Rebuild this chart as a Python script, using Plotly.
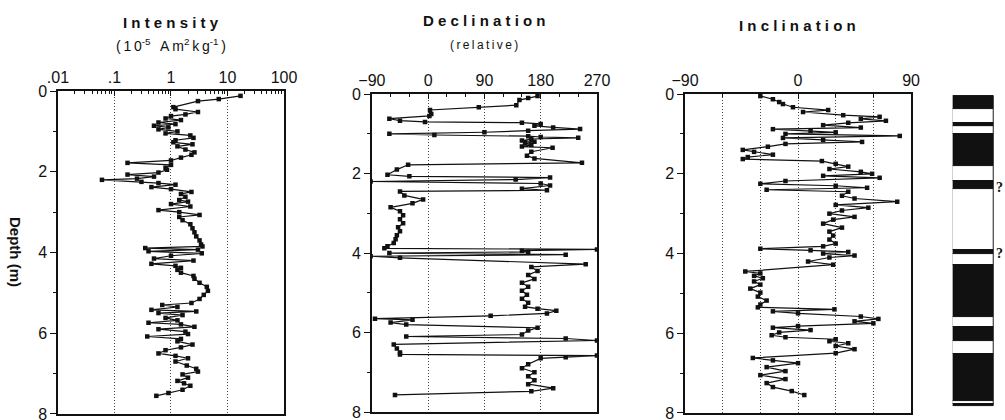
import plotly.graph_objects as go

# ---------------- data ----------------
int_depth = [0.12,0.20,0.25,0.40,0.45,0.52,0.58,0.62,0.68,0.72,0.78,0.82,0.86,0.90,0.95,1.00,1.05,1.10,1.16,1.22,
             1.27,1.32,1.37,1.45,1.52,1.58,1.65,1.72,1.78,1.83,1.90,1.95,2.02,2.07,2.12,2.17,2.20,2.25,2.28,2.32,
             2.38,2.43,2.50,2.55,2.62,2.70,2.74,2.80,2.86,2.95,3.00,3.07,3.12,3.20,3.30,3.40,3.50,3.60,3.70,3.80,
             3.85,3.89,3.93,3.97,4.02,4.08,4.15,4.20,4.28,4.33,4.38,4.43,4.50,4.58,4.65,4.75,4.85,4.95,5.05,5.15,
             5.25,5.30,5.35,5.42,5.46,5.50,5.55,5.62,5.68,5.74,5.78,5.84,5.90,5.96,6.02,6.08,6.14,6.20,6.28,6.35,
             6.42,6.50,6.56,6.62,6.70,6.80,6.88,6.95,7.02,7.10,7.18,7.24,7.30,7.40,7.48,7.55]
int_value = [17,7,3,1.1,1.2,3,1.8,1.0,0.8,1.5,0.6,1.2,0.5,0.9,0.6,1.3,0.8,2.2,2.5,1.2,
             1.1,2.4,1.3,1.8,2.6,2.3,1.5,1.0,0.17,1.0,0.8,0.85,0.6,0.17,0.5,0.25,0.06,0.3,0.6,1.2,
             0.45,1.0,2.3,1.5,1.8,1.4,2.0,1.0,2.2,0.6,1.4,3.2,1.4,1.6,2.2,2.4,2.6,2.8,3.2,3.4,
             3.6,0.35,3.0,0.4,3.5,1.0,0.5,2.5,0.45,1.2,1.5,1.3,1.5,2.5,2.6,3.2,4.3,4.5,3.8,3.2,
             2.3,0.7,1.3,0.45,2.8,0.6,1.6,0.8,1.3,0.4,1.5,2.6,0.6,1.8,2.0,0.38,1.5,1.3,2.4,1.5,
             0.8,0.6,1.2,2.0,1.2,1.9,2.8,3.0,1.6,2.0,1.3,1.7,2.2,1.6,0.9,0.55]

dec_depth = [0.05,0.10,0.15,0.28,0.33,0.40,0.50,0.55,0.62,0.67,0.70,0.72,0.75,0.80,0.84,0.88,0.92,0.96,1.00,1.03,
             1.06,1.08,1.10,1.13,1.17,1.20,1.24,1.28,1.32,1.35,1.45,1.55,1.62,1.73,1.78,1.90,2.03,2.07,2.10,2.15,
             2.20,2.25,2.30,2.38,2.42,2.45,2.55,2.65,2.75,2.85,2.95,3.05,3.15,3.25,3.35,3.45,3.55,3.65,3.75,3.83,
             3.88,3.91,3.94,3.97,4.00,4.04,4.08,4.12,4.28,4.35,4.45,4.55,4.65,4.75,4.85,4.95,5.05,5.15,5.25,5.35,
             5.40,5.45,5.52,5.58,5.65,5.68,5.75,5.80,5.88,5.95,6.05,6.10,6.15,6.20,6.30,6.40,6.50,6.55,6.58,6.62,
             6.65,6.80,6.90,7.00,7.10,7.20,7.30,7.40,7.48,7.57]
dec_value = [175,160,146,141,81,3,5,2,-62,-45,-5,150,180,170,200,243,160,90,-62,10,
             160,180,240,165,150,170,155,165,150,199,165,158,170,246,-32,-50,-65,-30,195,140,
             -92,180,195,150,190,-45,-38,-8,-25,-60,-45,-40,-45,-40,-48,-45,-50,-52,-55,-65,
             -70,270,150,160,-62,220,-92,-45,252,165,175,160,170,150,160,150,158,150,160,155,
             175,205,190,100,-85,-25,-60,-35,175,160,150,-35,220,270,-55,-50,-45,-45,270,220,
             180,160,150,170,160,170,160,200,165,-53]

inc_depth = [0.05,0.13,0.20,0.25,0.33,0.40,0.45,0.53,0.57,0.62,0.67,0.72,0.78,0.84,0.88,0.92,0.96,1.00,1.05,1.10,
             1.15,1.20,1.25,1.32,1.40,1.45,1.52,1.58,1.63,1.68,1.75,1.82,1.88,1.95,2.00,2.05,2.10,2.18,2.25,2.30,
             2.35,2.40,2.45,2.55,2.62,2.70,2.78,2.85,2.92,3.00,3.08,3.15,3.25,3.35,3.45,3.55,3.65,3.75,3.82,3.88,
             3.92,3.96,4.00,4.05,4.10,4.20,4.28,4.45,4.50,4.56,4.62,4.70,4.78,4.88,4.98,5.08,5.18,5.28,5.35,5.40,
             5.45,5.50,5.58,5.64,5.70,5.75,5.82,5.86,5.92,5.98,6.05,6.10,6.15,6.20,6.25,6.32,6.40,6.50,6.62,6.68,
             6.75,6.85,6.95,7.05,7.15,7.25,7.35,7.45,7.55]
inc_value = [-30,-20,-15,-12,-4,24,4,36,65,50,70,40,20,50,-20,10,30,-10,81,-12,
             20,51,-10,-24,-44,-35,-20,-40,-44,19,30,40,25,50,59,20,65,-10,-30,30,
             55,-25,40,35,45,79,30,56,35,25,45,28,20,35,25,28,25,30,20,-30,
             10,40,20,45,25,8,28,-42,-30,-35,-28,-35,-30,-38,-30,-32,-25,-30,-32,29,
             -20,0,50,64,45,60,0,-20,10,-15,-21,-10,30,25,40,30,45,30,-36,-20,
             0,-25,-10,-30,-10,-25,-20,-5,5]

# polarity column zones (depth top, depth bottom, kind)
pol_top    = [0.05,0.38,0.73,0.80,1.00,1.80,2.18,2.38,3.93,4.03,4.29,5.61,5.86,6.22,6.54,7.72,7.79]
pol_bottom = [0.38,0.73,0.80,1.00,1.80,2.18,2.38,3.93,4.03,4.29,5.61,5.86,6.22,6.54,7.72,7.79,7.85]
pol_kind   = ["N","R","N","?","N","R","N","R","N","R","N","R","N","R","N","R","N"]

FONT = "Liberation Sans, Arial, sans-serif"
BLACK = "#111111"
GRID = dict(showgrid=True, gridcolor="#444444", griddash="1px,2px", gridwidth=1)

fig = go.Figure()

mk = dict(symbol="square", size=4.5, color=BLACK)
ln = dict(color=BLACK, width=1.2)
fig.add_trace(go.Scatter(x=int_value, y=int_depth, mode="lines+markers", marker=mk, line=ln,
                         xaxis="x", yaxis="y", showlegend=False))
fig.add_trace(go.Scatter(x=dec_value, y=dec_depth, mode="lines+markers", marker=mk, line=ln,
                         xaxis="x2", yaxis="y2", showlegend=False))
fig.add_trace(go.Scatter(x=inc_value, y=inc_depth, mode="lines+markers", marker=mk, line=ln,
                         xaxis="x3", yaxis="y3", showlegend=False))

# polarity column
colors = [BLACK if k == "N" else "white" for k in pol_kind]
patterns = ["." if k == "?" else "" for k in pol_kind]
fig.add_trace(go.Bar(x=[0.5] * len(pol_top), y=[b - t for t, b in zip(pol_top, pol_bottom)], base=pol_top,
                     width=1, marker=dict(color=colors, line=dict(color=BLACK, width=1),
                                          pattern=dict(shape=patterns, fgcolor="#555555", bgcolor="white",
                                                       size=4, solidity=0.4)),
                     xaxis="x4", yaxis="y4", showlegend=False, hoverinfo="skip"))

tickfont = dict(family=FONT, size=16, color=BLACK)
common_x = dict(side="top", showline=True, linecolor=BLACK, linewidth=1.5, mirror=True,
                ticks="inside", ticklen=5, tickcolor=BLACK, tickfont=tickfont, zeroline=False,
                automargin=False, ticklabeloverflow="allow", **GRID)
common_y = dict(range=[8, 0], tickvals=[0, 2, 4, 6, 8], showline=True, linecolor=BLACK, linewidth=1.5,
                mirror=True, ticks="outside", ticklen=6, tickcolor=BLACK, tickfont=tickfont,
                showgrid=False, zeroline=False, automargin=False, ticklabeloverflow="allow",
                minor=dict(dtick=1, ticks="outside", ticklen=3, tickcolor=BLACK, showgrid=False))

minor_log = [k * 10 ** n for n in range(-2, 2) for k in range(2, 10)]

fig.update_layout(
    template="none",
    width=1005, height=420, margin=dict(l=0, r=0, t=0, b=0, autoexpand=False),
    paper_bgcolor="white", plot_bgcolor="white", font=dict(family=FONT, color=BLACK),
    bargap=0, showlegend=False,
    xaxis=dict(common_x, type="log", range=[-2, 2], domain=[0.0577, 0.2826],
               tickvals=[0.01, 0.1, 1, 10, 100], ticktext=[".01", ".1", "1", "10", "100"],
               minor=dict(tickvals=minor_log, ticks="inside", ticklen=3, tickcolor=BLACK, showgrid=False),
               anchor="y"),
    yaxis=dict(common_y, domain=[0.0143, 0.7833], anchor="x"),
    xaxis2=dict(common_x, range=[-90, 270], domain=[0.370, 0.594],
                tickvals=[-90, 0, 90, 180, 270],
                minor=dict(dtick=30, ticks="inside", ticklen=3, tickcolor=BLACK, showgrid=False),
                anchor="y2"),
    yaxis2=dict(common_y, domain=[0.019, 0.776], anchor="x2"),
    xaxis3=dict(common_x, range=[-90, 90], domain=[0.6816, 0.9065],
                tickvals=[-90, 0, 90],
                minor=dict(dtick=30, ticks="inside", ticklen=3, tickcolor=BLACK, **GRID),
                anchor="y3"),
    yaxis3=dict(common_y, domain=[0.0167, 0.776], anchor="x3"),
    xaxis4=dict(range=[0, 1], domain=[0.948, 0.989], visible=False, anchor="y4", automargin=False),
    yaxis4=dict(range=[8, 0], domain=[0.019, 0.776], visible=False, anchor="x4", automargin=False),
)

ann = []
def add(text, x, y, size, bold=False, angle=0, family=FONT):
    ann.append(dict(text=("<b>%s</b>" % text) if bold else text, x=x / 1005, y=1 - y / 420,
                    xref="paper", yref="paper", showarrow=False, textangle=angle,
                    font=dict(family=family, size=size, color=BLACK), xanchor="center", yanchor="middle"))

T = "\u2009"
add("I n t e n s i t y", 171, 22, 15, bold=True)
add("(" + T + "1" + T + "0<sup>-5</sup>" + T + " " + T + "A" + T + "m<sup>2</sup>" + T + "k" + T + "g<sup>-1</sup>" + T + ")",
    171, 45, 14)
add("D e c l i n a t i o n", 484, 20, 15, bold=True)
add("(" + T + T.join("relative") + T + ")", 484, 45, 12)
add("I n c l i n a t i o n", 797, 25, 15, bold=True)
add("Depth (m)", 16, 252, 15, bold=True, angle=90)
add("?", 999, 188, 14, bold=True, family="Liberation Serif, serif")
add("?", 999, 253, 14, bold=True, family="Liberation Serif, serif")
fig.update_layout(annotations=ann)

fig.write_html("out.html")
